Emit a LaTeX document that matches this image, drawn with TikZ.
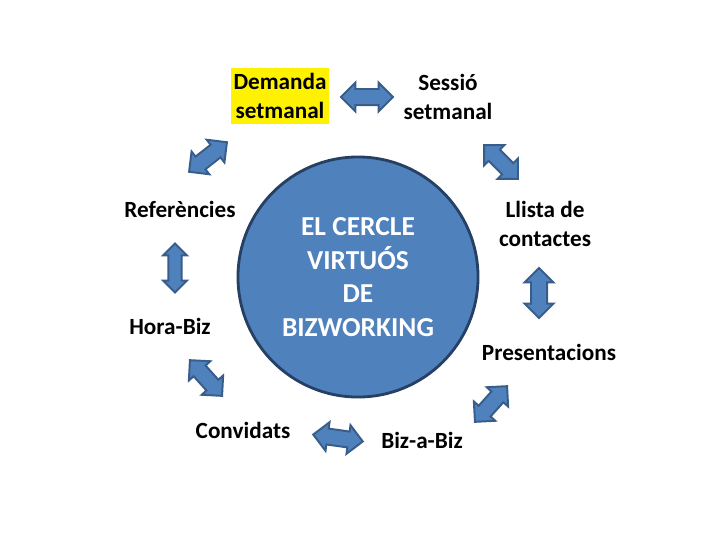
\documentclass[tikz,border=0pt]{standalone}
\usepackage{fontspec}
\setmainfont{Carlito}
\usetikzlibrary{shapes.arrows}
\definecolor{arrowblue}{RGB}{79,129,189}
\definecolor{arrowedge}{RGB}{56,93,138}
\definecolor{circleedge}{RGB}{38,64,100}

\begin{document}
\begin{tikzpicture}[x=0.025cm, y=-0.025cm,
  step label/.style={align=center, font=\fontsize{16.5}{20.5}\selectfont\bfseries},
  dblarrow/.style={double arrow, draw=arrowedge, fill=arrowblue, line width=1.4pt,
    inner xsep=0pt, inner ysep=5pt, minimum width=0.7cm, double arrow head extend=0.16cm,
    minimum height=#1}]
  \useasboundingbox (0,0) rectangle (720,540);

  % the circle in the middle
  \node[circle, fill=arrowblue, draw=circleedge, line width=2pt, minimum size=6cm,
    align=center, text=white, font=\fontsize{19.5}{24}\selectfont\bfseries] (cercle) at (358,277)
    {EL CERCLE\\VIRTUÓS\\DE\\BIZWORKING};

  % steps round the circle
  \node[step label, fill=yellow, inner xsep=2pt, inner ysep=4pt] (demanda) at (280,96) {Demanda\\setmanal};
  \node[step label] (sessio) at (448,97) {Sessió\\setmanal};
  \node[step label] (llista) at (545,224) {Llista de\\contactes};
  \node[step label] (present) at (549,352) {Presentacions};
  \node[step label] (bizabiz) at (422,440) {Biz-a-Biz};
  \node[step label] (convidats) at (243,430) {Convidats};
  \node[step label] (horabiz) at (170,326) {Hora-Biz};
  \node[step label] (refs) at (180,209) {Referències};

  % block arrows between the steps
  \node[dblarrow=1.3cm] (a1) at (367,97) {};
  \node[dblarrow=1.2cm, rotate=-45] (a2) at (501,162) {};
  \node[dblarrow=1.25cm, rotate=90] (a3) at (539,293) {};
  \node[dblarrow=1.2cm, rotate=48] (a4) at (491,404) {};
  \node[dblarrow=1.25cm, rotate=-8] (a5) at (338,438) {};
  \node[dblarrow=1.2cm, rotate=-48] (a6) at (206,378) {};
  \node[dblarrow=1.22cm, rotate=90, minimum width=0.58cm, inner ysep=4pt,
    double arrow head extend=0.13cm] (a7) at (175,268) {};
  \node[dblarrow=1.2cm, rotate=38] (a8) at (208,157) {};
\end{tikzpicture}
\end{document}
